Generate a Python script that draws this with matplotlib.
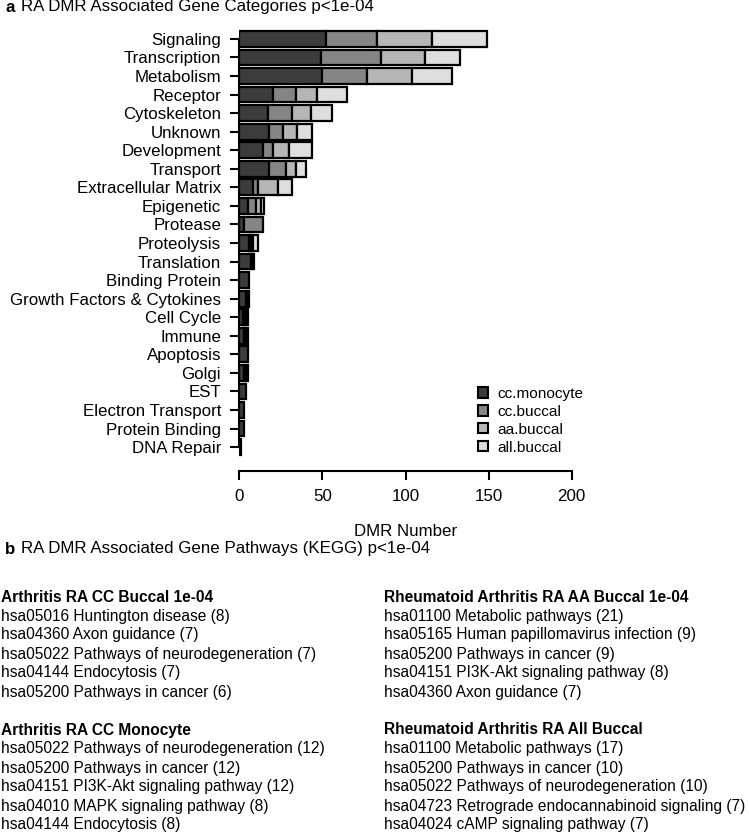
import numpy as np
import matplotlib
matplotlib.use("Agg")
import matplotlib.pyplot as plt
from matplotlib.patches import Patch

plt.rcParams['font.family'] = ['Liberation Sans', 'DejaVu Sans']

# Gene categories (top to bottom)
categories = ["Signaling", "Transcription", "Metabolism", "Receptor", "Cytoskeleton",
              "Unknown", "Development", "Transport", "Extracellular Matrix", "Epigenetic",
              "Protease", "Proteolysis", "Translation", "Binding Protein",
              "Growth Factors & Cytokines", "Cell Cycle", "Immune", "Apoptosis", "Golgi",
              "EST", "Electron Transport", "Protein Binding", "DNA Repair"]

# DMR counts per group
cc_monocyte = [52, 49, 50, 20, 17, 18, 14, 18, 8, 5, 3, 6, 7, 6, 4, 2, 3, 5, 3, 4, 3, 3, 1]
cc_buccal = [31, 36, 27, 14, 15, 8, 6, 10, 3, 5, 11, 1, 1, 0, 0, 1, 0, 0, 0, 0, 0, 0, 0]
aa_buccal = [33, 27, 27, 13, 11, 9, 10, 6, 12, 3, 0, 1, 0, 0, 1, 1, 1, 0, 1, 0, 0, 0, 0]
all_buccal = [33, 21, 24, 18, 13, 9, 14, 6, 9, 2, 0, 3, 1, 0, 1, 1, 1, 0, 1, 0, 0, 0, 0]

series_names = ["cc.monocyte", "cc.buccal", "aa.buccal", "all.buccal"]
series_colors = ["#3c3c3c", "#858585", "#b6b6b6", "#dedede"]

xticks = [0, 50, 100, 150, 200]

# KEGG pathway lists
title_cc_buccal = "Arthritis RA CC Buccal 1e-04"
kegg_cc_buccal = ["hsa05016 Huntington disease (8)",
                  "hsa04360 Axon guidance (7)",
                  "hsa05022 Pathways of neurodegeneration (7)",
                  "hsa04144 Endocytosis (7)",
                  "hsa05200 Pathways in cancer (6)"]
title_cc_mono = "Arthritis RA CC Monocyte"
kegg_cc_mono = ["hsa05022 Pathways of neurodegeneration (12)",
                "hsa05200 Pathways in cancer (12)",
                "hsa04151 PI3K-Akt signaling pathway (12)",
                "hsa04010 MAPK signaling pathway (8)",
                "hsa04144 Endocytosis (8)"]
title_aa_buccal = "Rheumatoid Arthritis RA AA Buccal 1e-04"
kegg_aa_buccal = ["hsa01100 Metabolic pathways (21)",
                  "hsa05165 Human papillomavirus infection (9)",
                  "hsa05200 Pathways in cancer (9)",
                  "hsa04151 PI3K-Akt signaling pathway (8)",
                  "hsa04360 Axon guidance (7)"]
title_all_buccal = "Rheumatoid Arthritis RA All Buccal"
kegg_all_buccal = ["hsa01100 Metabolic pathways (17)",
                   "hsa05200 Pathways in cancer (10)",
                   "hsa05022 Pathways of neurodegeneration (10)",
                   "hsa04723 Retrograde endocannabinoid signaling (7)",
                   "hsa04024 cAMP signaling pathway (7)"]

W, H = 749, 833
fig = plt.figure(figsize=(W / 100, H / 100), dpi=100)


def fx(px):
    return px / W


def fy(py):
    return 1 - py / H


# bar panel, placed in pixel terms
ax = fig.add_axes([fx(239.3), fy(471), fx(571.7 - 239.3), (471 - 28) / H])
y = np.arange(len(categories))
left = np.zeros(len(categories))
for name, vals, col in zip(series_names, [cc_monocyte, cc_buccal, aa_buccal, all_buccal], series_colors):
    vals = np.array(vals, dtype=float)
    lw = np.where(vals > 0, 1.6, 0)
    ax.barh(y, vals, left=left, height=0.85, color=col, edgecolor='black', linewidth=lw)
    left += vals

ax.set_xlim(0, 200)
ax.set_ylim(23.29, -0.59)
ax.set_yticks(y)
ax.set_yticklabels(categories, fontsize=12.2)
ax.set_xticks(xticks)
ax.set_xticklabels([str(t) for t in xticks], fontsize=12.2)
ax.set_xlabel("DMR Number", fontsize=12.2, labelpad=14)
for s in ['top', 'right']:
    ax.spines[s].set_visible(False)
ax.spines['left'].set_bounds(0, len(categories) - 1)
ax.spines['bottom'].set_bounds(0, 200)
ax.spines['left'].set_linewidth(1.5)
ax.spines['bottom'].set_linewidth(1.5)
ax.tick_params(axis='both', length=6.5, width=1.5, pad=6.5)

handles = [Patch(facecolor=c, edgecolor='black', linewidth=1.5) for c in series_colors]
ax.legend(handles, series_names, loc='upper left', bbox_to_anchor=(fx(478), fy(387)),
          bbox_transform=fig.transFigure, frameon=False, fontsize=11.1,
          handlelength=0.65, handleheight=0.65, handletextpad=0.6, labelspacing=0.25,
          borderaxespad=0, borderpad=0)

# panel titles
fig.text(fx(5), fy(7), "a", fontsize=12.2, fontweight='bold', va='center')
fig.text(fx(21), fy(7), "RA DMR Associated Gene Categories p<1e-04", fontsize=12.2, va='center')
fig.text(fx(5), fy(549), "b", fontsize=12.2, fontweight='bold', va='center')
fig.text(fx(21), fy(549), "RA DMR Associated Gene Pathways (KEGG) p<1e-04", fontsize=12.2, va='center')

# pathway text blocks
line_h = 19.0


def block(x0, y0, header, items):
    fig.text(fx(x0), fy(y0), header, fontsize=11.2, fontweight='bold', va='center')
    for i, t in enumerate(items):
        fig.text(fx(x0), fy(y0 + (i + 1) * line_h), t, fontsize=11.2, va='center')


block(1, 597, title_cc_buccal, kegg_cc_buccal)
block(1, 597 + 7 * line_h, title_cc_mono, kegg_cc_mono)
block(384, 597, title_aa_buccal, kegg_aa_buccal)
block(384, 597 + 7 * line_h, title_all_buccal, kegg_all_buccal)

fig.savefig("out.png", dpi=100)
